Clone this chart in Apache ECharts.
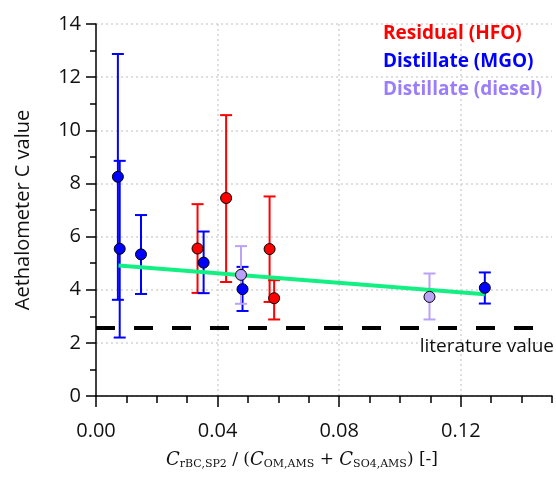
<!DOCTYPE html>
<html>
<head>
<meta charset="utf-8">
<script src="https://cdn.jsdelivr.net/npm/echarts@6/dist/echarts.min.js"></script>
<style>
  html, body { margin: 0; padding: 0; background: #fff; }
  #chart { width: 556px; height: 485px; }
</style>
</head>
<body>
<div id="chart"></div>
<script>
// rBC / (OM + SO4) mass ratio, Aethalometer C value and its error range per fuel group
const hfoX    = [0.0334, 0.0428, 0.0571, 0.0586];
const hfoC    = [5.55, 7.45, 5.53, 3.68];
const hfoLow  = [3.88, 4.29, 3.54, 2.88];
const hfoHigh = [7.22, 10.57, 7.51, 4.36];

const mgoX    = [0.0072, 0.0078, 0.0148, 0.0354, 0.0482, 0.1279];
const mgoC    = [8.25, 5.54, 5.33, 5.02, 4.02, 4.07];
const mgoLow  = [3.62, 2.20, 3.84, 3.87, 3.20, 3.48];
const mgoHigh = [12.87, 8.85, 6.81, 6.19, 4.86, 4.65];

const dieselX    = [0.0477, 0.1097];
const dieselC    = [4.56, 3.73];
const dieselLow  = [3.47, 2.88];
const dieselHigh = [5.64, 4.61];

// linear fit end points
const fitX = [0.0074, 0.1279];
const fitC = [4.91, 3.83];

const literatureC = 2.55;

const majorXTicks = [0, 0.04, 0.08, 0.12];
const groupNames = ['Residual (HFO)', 'Distillate (MGO)', 'Distillate (diesel)'];

const FONT = '"Open Sans", "Noto Sans", sans-serif';
const SERIF = '"DejaVu Serif", "Liberation Serif", serif';
const RED = '#ff0000', BLUE = '#0000ff', LAV = '#b9a2f7', LAV_TEXT = '#9b7dfb';

function errorBars(xs, lows, highs, color) {
  return {
    type: 'custom',
    xAxisIndex: 1,
    z: 2,
    silent: true,
    data: xs.map((x, i) => [x, lows[i], highs[i]]),
    encode: { x: 0, y: [1, 2] },
    renderItem(params, api) {
      const lo = api.coord([api.value(0), api.value(1)]);
      const hi = api.coord([api.value(0), api.value(2)]);
      const hw = 6;
      const style = { stroke: color, lineWidth: 2, fill: null };
      return {
        type: 'group',
        children: [
          { type: 'line', shape: { x1: lo[0], y1: lo[1], x2: hi[0], y2: hi[1] }, style },
          { type: 'line', shape: { x1: lo[0] - hw, y1: lo[1], x2: lo[0] + hw, y2: lo[1] }, style },
          { type: 'line', shape: { x1: hi[0] - hw, y1: hi[1], x2: hi[0] + hw, y2: hi[1] }, style }
        ]
      };
    }
  };
}

function points(name, xs, ys, color) {
  return {
    type: 'scatter',
    name,
    xAxisIndex: 1,
    z: 4,
    symbol: 'circle',
    symbolSize: 11,
    data: xs.map((x, i) => [x, ys[i]]),
    itemStyle: { color, borderColor: '#000', borderWidth: 1, opacity: 1 }
  };
}

const axisBlack = { color: '#000', width: 1.5 };
const gridDots = { color: '#d4d4d4', width: 1.5, type: [2, 3] };

const chart = echarts.init(document.getElementById('chart'), null, { renderer: 'canvas' });
chart.setOption({
  animation: false,
  backgroundColor: '#fff',
  grid: { left: 96, right: 4, top: 24, bottom: 89, containLabel: false },
  legend: {
    orient: 'vertical',
    left: 372,
    top: 18,
    itemGap: 6,
    itemWidth: 0,
    itemHeight: 0,
    icon: 'circle',
    selectedMode: false,
    itemStyle: { opacity: 0 },
    textStyle: { fontFamily: FONT, fontSize: 19, fontWeight: 'bold', lineHeight: 22 },
    data: [
      { name: groupNames[0], textStyle: { color: RED } },
      { name: groupNames[1], textStyle: { color: BLUE } },
      { name: groupNames[2], textStyle: { color: LAV_TEXT } }
    ]
  },
  xAxis: [
    {
      // minor ticks every 0.01 and the axis line
      type: 'value', min: 0, max: 0.15, interval: 0.01, position: 'bottom',
      axisLine: { show: true, onZero: false, lineStyle: axisBlack },
      axisTick: { show: true, length: 7, lineStyle: axisBlack },
      axisLabel: { show: false },
      splitLine: { show: false }
    },
    {
      // labelled major ticks
      type: 'value', min: 0, max: 0.15, interval: 0.04, position: 'bottom',
      axisLine: { show: false, onZero: false },
      axisTick: { show: true, length: 11, customValues: majorXTicks, lineStyle: axisBlack },
      axisLabel: {
        customValues: majorXTicks,
        formatter: v => v.toFixed(2),
        margin: 25, fontFamily: FONT, fontSize: 20, color: '#111'
      },
      splitLine: { show: true, showMinLine: false, lineStyle: gridDots },
      name: '{c|C}{s|rBC,SP2}{t| / (}{c|C}{s|OM,AMS}{t| + }{c|C}{s|SO4,AMS}{t|) [-]}',
      nameLocation: 'middle',
      nameGap: 53,
      nameTextStyle: {
        padding: [0, 44, 0, 0],
        rich: {
          c: { fontFamily: SERIF, fontStyle: 'italic', fontSize: 18, color: '#111', lineHeight: 22 },
          s: { fontFamily: SERIF, fontSize: 11, color: '#111', lineHeight: 11, verticalAlign: 'bottom', padding: [0, 0, 1, 0] },
          t: { fontFamily: SERIF, fontSize: 17, color: '#111', lineHeight: 22 }
        }
      }
    }
  ],
  yAxis: {
    type: 'value', min: 0, max: 14, interval: 2,
    axisLine: { show: true, onZero: false, lineStyle: axisBlack },
    axisTick: { show: true, length: 10, lineStyle: axisBlack },
    minorTick: { show: true, splitNumber: 2, length: 6, lineStyle: axisBlack },
    axisLabel: { margin: 15, fontFamily: FONT, fontSize: 20, color: '#111' },
    splitLine: { show: true, lineStyle: gridDots },
    name: 'Aethalometer C value',
    nameLocation: 'middle',
    nameGap: 63,
    nameTextStyle: { fontFamily: FONT, fontSize: 20, color: '#111' }
  },
  series: [
    errorBars(hfoX, hfoLow, hfoHigh, RED),
    errorBars(mgoX, mgoLow, mgoHigh, BLUE),
    errorBars(dieselX, dieselLow, dieselHigh, LAV),
    {
      type: 'line',
      name: 'fit',
      xAxisIndex: 1,
      z: 3,
      symbol: 'none',
      silent: true,
      data: fitX.map((x, i) => [x, fitC[i]]),
      lineStyle: { color: '#12f083', width: 4 },
      markLine: {
        silent: true,
        symbol: ['none', 'none'],
        lineStyle: { color: '#000', width: 4, type: [19, 19] },
        label: {
          show: true,
          position: 'insideEndBottom',
          formatter: 'literature value',
          fontFamily: FONT, fontSize: 19, color: '#111',
          distance: [-2, 9]
        },
        data: [{ yAxis: literatureC }]
      }
    },
    points(groupNames[0], hfoX, hfoC, RED),
    points(groupNames[1], mgoX, mgoC, BLUE),
    points(groupNames[2], dieselX, dieselC, LAV)
  ]
});
</script>
</body>
</html>
